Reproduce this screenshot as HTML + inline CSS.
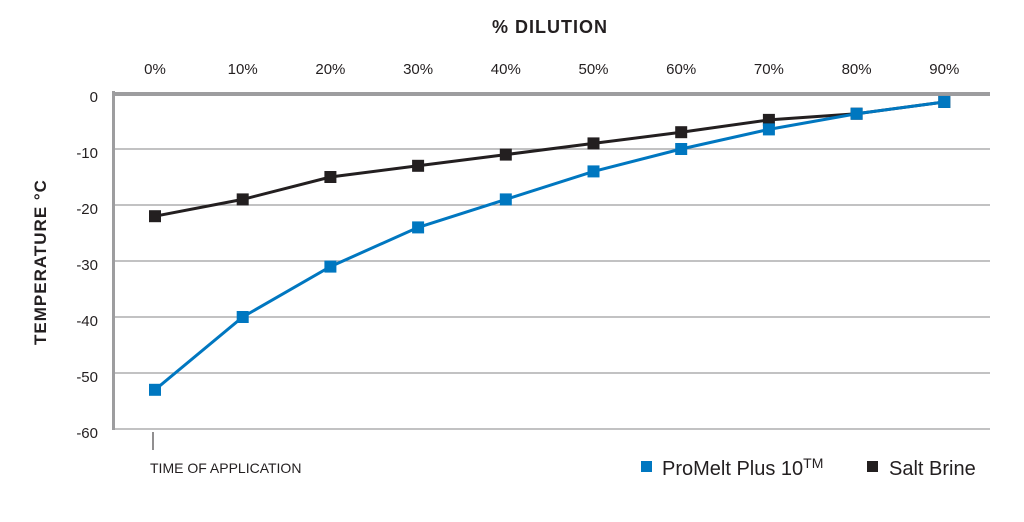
<!DOCTYPE html>
<html><head><meta charset="utf-8"><style>
body{margin:0;background:#fff;width:1024px;height:517px;overflow:hidden}
svg text{font-family:"Liberation Sans",sans-serif}
</style></head><body>
<svg id="c" width="1024" height="517">
<text x="550" y="33" text-anchor="middle" font-size="18" font-weight="bold" fill="#231f20" letter-spacing="1">% DILUTION</text>
<text transform="translate(46,262) rotate(-90)" text-anchor="middle" font-size="17" font-weight="bold" fill="#231f20" letter-spacing="1">TEMPERATURE °C</text>
<g id="grid"></g><g id="series"></g>
<line x1="153" y1="432" x2="153" y2="450" stroke="#231f20" stroke-width="1"/>
<text x="150" y="473" font-size="14" fill="#231f20">TIME OF APPLICATION</text>
<g>
<rect x="641" y="461" width="11" height="11" fill="#0077c0"/>
<text x="662" y="475" font-size="20" fill="#231f20">ProMelt Plus 10<tspan font-size="14" dy="-7">TM</tspan></text>
<rect x="867" y="461" width="11" height="11" fill="#231f20"/>
<text x="889" y="475" font-size="20" fill="#231f20">Salt Brine</text>
</g>
</svg>
<script>
const categories=["0%","10%","20%","30%","40%","50%","60%","70%","80%","90%"];
const yTicks=[0,-10,-20,-30,-40,-50,-60];
const promelt=[-53,-40,-31,-24,-19,-14,-10,-6.5,-3.7,-1.6];
const saltBrine=[-22,-19,-15,-13,-11,-9,-7,-4.8,-3.7,-1.6];
const NS="http://www.w3.org/2000/svg";
const X=i=>155+i*87.7, Y=v=>93-v*56/10;
function mk(t,a,p){const e=document.createElementNS(NS,t);for(const k in a)e.setAttribute(k,a[k]);p.appendChild(e);return e;}
const g=document.getElementById('grid'), s=document.getElementById('series');
yTicks.forEach(v=>{
 if(v!==0){const l=mk('line',{x1:112,x2:990,y1:Y(v),y2:Y(v),stroke:'#9d9d9f','stroke-width':1.3},g);
 
 }
 const t=mk('text',{x:98,y:Y(v)+9,'text-anchor':'end','font-size':15,fill:'#231f20'},g);t.textContent=v;
 
 
});
categories.forEach((c,i)=>{const t=mk('text',{x:X(i),y:74,'text-anchor':'middle','font-size':15,fill:'#231f20'},g);t.textContent=c;
 
 });
let f=mk('line',{x1:113.5,x2:113.5,y1:91,y2:430,stroke:'#9d9d9f','stroke-width':3},g);


f=mk('line',{x1:112,x2:990,y1:94,y2:94,stroke:'#9d9d9f','stroke-width':4},g);


function draw(data,color,name){
 const p=mk('polyline',{points:data.map((v,i)=>X(i)+','+Y(v)).join(' '),fill:'none',stroke:color,'stroke-width':3},s);
 
 
 data.forEach((v,i)=>{const r=mk('rect',{x:X(i)-6,y:Y(v)-6,width:12,height:12,fill:color},s);
 
 });
}
draw(saltBrine,'#231f20','salt-brine');
draw(promelt,'#0077c0','promelt');
</script>
</body></html>
